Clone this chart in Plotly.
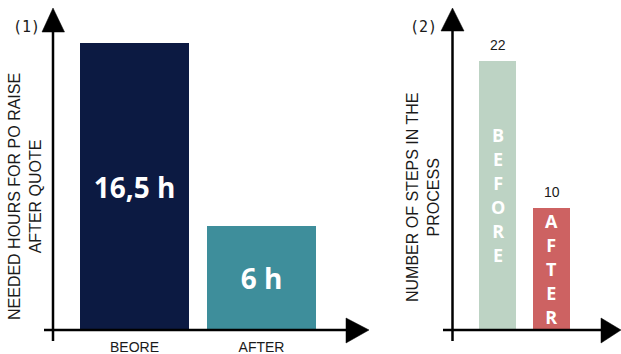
import plotly.graph_objects as go

# --- data -------------------------------------------------------------
hour_categories = ["BEORE", "AFTER"]
hours_needed = [16.5, 6]

step_categories = ["BEFORE", "AFTER"]
process_steps = [22, 10]

# --- styling ----------------------------------------------------------
W, H = 621, 354
NAVY, TEAL = "#0C1A42", "#3E8E9B"
SAGE, RED = "#BDD3C4", "#CD6262"
INK = "#1a1a1a"
SANS = "Liberation Sans, Arial, sans-serif"
BOLD = "Open Sans, sans-serif"


def px(x, y):
    """Pixel position -> paper coordinates."""
    return x / W, 1 - y / H


def hour_label(v):
    return f"{v:g}".replace(".", ",") + " h"


fig = go.Figure()

# (1) hours needed
fig.add_trace(go.Bar(
    x=hour_categories, y=hours_needed,
    marker=dict(color=[NAVY, TEAL], line=dict(width=0)),
    width=0.858,
    text=[hour_label(v) for v in hours_needed],
    textposition="inside", insidetextanchor="middle", textangle=0,
    textfont=dict(family=BOLD, size=28, color="white", weight="bold"),
    hoverinfo="skip", xaxis="x", yaxis="y", showlegend=False,
))

# (2) number of steps
fig.add_trace(go.Bar(
    x=step_categories, y=process_steps,
    marker=dict(color=[SAGE, RED], line=dict(width=0)),
    width=0.685,
    hoverinfo="skip", xaxis="x2", yaxis="y2", showlegend=False,
))

annotations = []

# value labels above the step bars
for cat, v in zip(step_categories, process_steps):
    annotations.append(dict(
        x=cat, y=v, xref="x2", yref="y2", text=str(v), showarrow=False,
        xanchor="center", yanchor="bottom", yshift=6,
        font=dict(family=SANS, size=14, color=INK),
    ))

# stacked category names inside the step bars
for cat, v in zip(step_categories, process_steps):
    stacked = "<br>".join(
        f"<span style='font-size:18px'>{ch}</span>" for ch in cat
    )
    annotations.append(dict(
        x=cat, y=v / 2, xref="x2", yref="y2", text=stacked, showarrow=False,
        xanchor="center", yanchor="middle",
        font=dict(family=BOLD, size=18.5, color="white", weight="bold"),
    ))

# axis titles
for title, (cx, cy) in (
    ("NEEDED HOURS FOR PO RAISE<br>AFTER QUOTE", (25, 197)),
    ("NUMBER OF STEPS IN THE<br>PROCESS", (423, 197)),
):
    tx, ty = px(cx, cy)
    annotations.append(dict(
        x=tx, y=ty, xref="paper", yref="paper", textangle=-90,
        showarrow=False, xanchor="center", yanchor="middle",
        text=title, font=dict(family=SANS, size=16, color=INK),
    ))

# panel numbers
for label, (lx, ly) in (("(1)", (26, 27)), ("(2)", (423, 27))):
    ax_, ay_ = px(lx, ly)
    annotations.append(dict(
        x=ax_, y=ay_, xref="paper", yref="paper", text=label,
        showarrow=False, xanchor="center", yanchor="middle",
        font=dict(family="DejaVu Sans Mono, monospace", size=15, color=INK),
    ))

# hand-drawn style axes with arrow heads
shapes = []


def line(x0, y0, x1, y1):
    a, b = px(x0, y0)
    c, d = px(x1, y1)
    shapes.append(dict(type="line", xref="paper", yref="paper",
                       x0=a, y0=b, x1=c, y1=d,
                       line=dict(color="black", width=2.5)))


def triangle(*pts):
    coords = [px(x, y) for x, y in pts]
    path = "M " + " L ".join(f"{a},{b}" for a, b in coords) + " Z"
    shapes.append(dict(type="path", xref="paper", yref="paper", path=path,
                       fillcolor="black", line=dict(color="black", width=0.5)))


# panel (1)
line(53, 341, 53, 28)
triangle((53, 8), (42, 32), (64.5, 32))
line(44, 330, 349, 330)
triangle((369, 330), (346, 318), (346, 343))
# panel (2)
line(452.5, 341, 452.5, 28)
triangle((452.5, 8), (441, 31), (464, 31))
line(443, 330, 603, 330)
triangle((621, 330), (601, 318), (601, 343))

y_dom = [24 / H, 342 / H]

fig.update_layout(
    width=W, height=H, autosize=False,
    margin=dict(l=0, r=0, t=0, b=0, pad=0),
    paper_bgcolor="white", plot_bgcolor="white",
    bargap=0,
    xaxis=dict(domain=[53 / W, 368 / W], type="category", anchor="y",
               range=[-0.642, 1.839], showline=False, showgrid=False,
               zeroline=False, ticks="", ticklabelstandoff=7,
               tickfont=dict(family=SANS, size=14, color=INK)),
    yaxis=dict(domain=y_dom, range=[0, 18.28], anchor="x", showline=False,
               showgrid=False, zeroline=False, showticklabels=False,
               ticks=""),
    xaxis2=dict(domain=[452 / W, 1.0], type="category", anchor="y2",
                range=[-0.843, 2.287], showline=False, showgrid=False,
                zeroline=False, showticklabels=False, ticks=""),
    yaxis2=dict(domain=y_dom, range=[0, 26.0], anchor="x2",
                showline=False, showgrid=False, zeroline=False,
                showticklabels=False, ticks=""),
    annotations=annotations,
    shapes=shapes,
)

fig.write_html("out.html")
